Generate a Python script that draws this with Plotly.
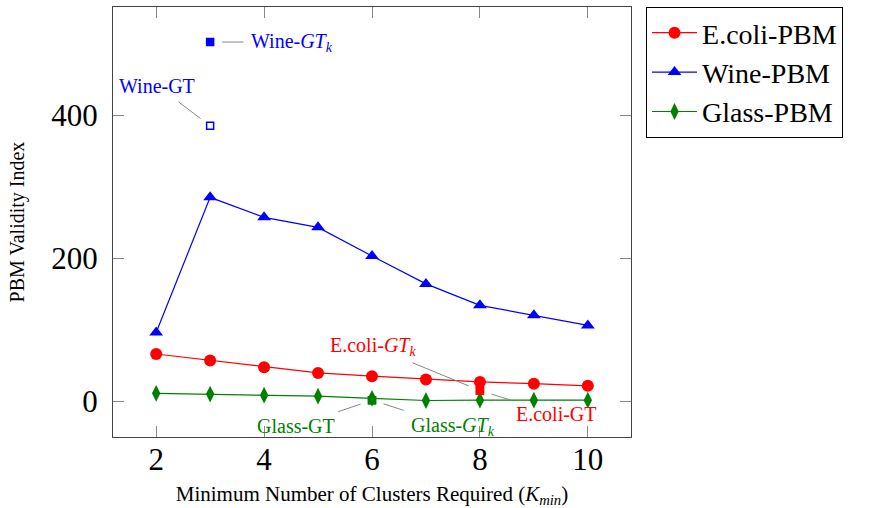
import plotly.graph_objects as go

k_min = [2, 3, 4, 5, 6, 7, 8, 9, 10]
ecoli_pbm = [66, 57, 47.5, 39.5, 35, 30.5, 27, 24.5, 21.5]
wine_pbm = [96, 285, 257, 243, 203, 164, 134, 120, 106]
glass_pbm = [11, 10, 8.5, 7, 4, 1, 1.5, 1.5, 1.5]

# ground-truth points (k, value)
wine_gt = (3, 385)
wine_gtk = (3, 502)
ecoli_gt = (8, 15)
ecoli_gtk = (8, 15)
glass_gt = (6, 1.5)
glass_gtk = (6, 1.5)

x_ticks = [2, 4, 6, 8, 10]
y_ticks = [0, 200, 400]

RED = "#ff0000"
BLUE = "#0000ff"
GREEN = "#008000"
SERIF = "Liberation Serif, serif"

fig = go.Figure()
fig.add_trace(go.Scatter(x=k_min, y=ecoli_pbm, mode="lines+markers", name="E.coli-PBM",
                         line=dict(color=RED, width=1.2),
                         marker=dict(symbol="circle", size=12, color=RED)))
fig.add_trace(go.Scatter(x=k_min, y=wine_pbm, mode="lines+markers", name="Wine-PBM",
                         line=dict(color=BLUE, width=1.2),
                         marker=dict(symbol="triangle-up", size=12, color=BLUE)))
fig.add_trace(go.Scatter(x=k_min, y=glass_pbm, mode="lines+markers", name="Glass-PBM",
                         line=dict(color=GREEN, width=1.2),
                         marker=dict(symbol="diamond-tall", size=12, color=GREEN)))

# GT markers
def gt_marker(pt, color, filled):
    fig.add_trace(go.Scatter(x=[pt[0]], y=[pt[1]], mode="markers", showlegend=False,
                             marker=dict(symbol="square" if filled else "square-open",
                                         size=7, color=color,
                                         line=dict(color=color, width=1.5))))

gt_marker(wine_gt, BLUE, False)
gt_marker(wine_gtk, BLUE, True)
gt_marker(ecoli_gt, RED, True)
gt_marker(ecoli_gtk, RED, True)
gt_marker(glass_gt, GREEN, True)
gt_marker(glass_gtk, GREEN, True)

def pin(pt, text, color, ax, ay):
    fig.add_annotation(x=pt[0], y=pt[1], text=text, showarrow=True, arrowhead=0,
                       arrowcolor="#888888", arrowwidth=1, ax=ax, ay=ay,
                       standoff=12, startstandoff=6,
                       font=dict(family=SERIF, size=20, color=color))

GTk = "<i>GT</i><sub><i>k</i></sub>"
pin(wine_gtk, "Wine-" + GTk, BLUE, 82, 0)
pin(wine_gt, "Wine-GT", BLUE, -53, -40)
pin(ecoli_gtk, "E.coli-" + GTk, RED, -107, -44)
pin(ecoli_gt, "E.coli-GT", RED, 77, 24)
pin(glass_gt, "Glass-GT", GREEN, -76, 26)
pin(glass_gtk, "Glass-" + GTk, GREEN, 81, 26)

axis_common = dict(showgrid=False, zeroline=False, showline=True, linecolor="#444444",
                   linewidth=1, mirror="ticks", ticks="inside", ticklen=11,
                   tickcolor="#888888", tickwidth=1, automargin=False,
                   tickfont=dict(family=SERIF, size=31, color="black"))

fig.update_layout(
    width=870, height=508,
    margin=dict(l=113, r=239, t=7, b=71),
    paper_bgcolor="white", plot_bgcolor="white",
    xaxis=dict(range=[1.2, 10.8], tickvals=x_ticks, ticklabelstandoff=-5,
               title=dict(text="Minimum Number of Clusters Required (<i>K</i><sub><i>min</i></sub>)",
                          font=dict(family=SERIF, size=21, color="black"), standoff=13),
               **axis_common),
    yaxis=dict(range=[-50, 551], tickvals=y_ticks, ticklabelstandoff=8,
               title=dict(text="PBM Validity Index",
                          font=dict(family=SERIF, size=20, color="black"), standoff=21),
               **axis_common),
    legend=dict(x=1.029, xanchor="left", y=1, yanchor="top",
                bordercolor="black", borderwidth=1, bgcolor="white",
                font=dict(family=SERIF, size=28, color="black"),
                tracegroupgap=0, itemwidth=45),
    showlegend=True,
)

fig.write_html("out.html")
